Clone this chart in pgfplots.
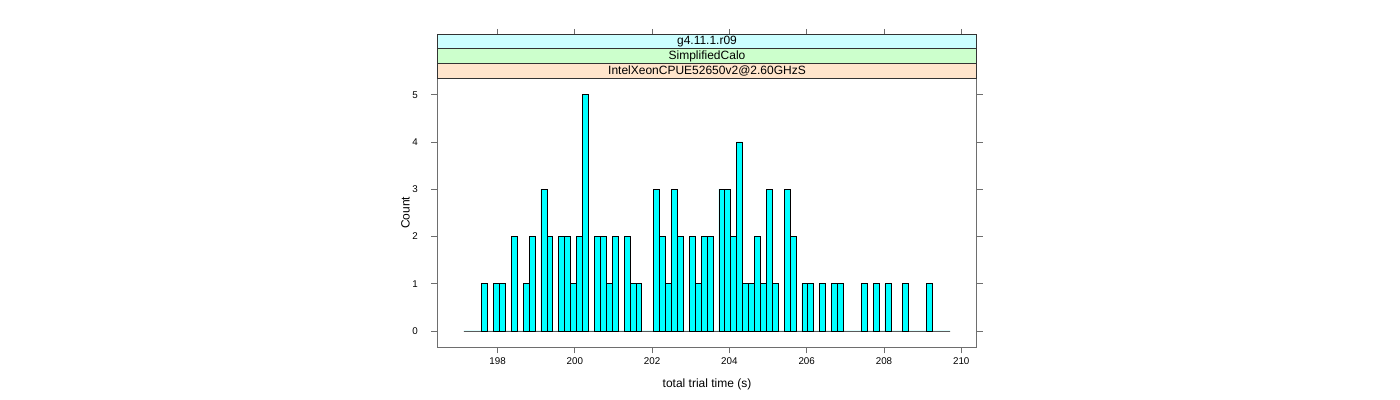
\documentclass[border=0pt]{standalone}
\usepackage{pgfplots}
\pgfplotsset{compat=1.18}
\usepackage{fontspec}
\setmainfont{Liberation Sans}
\definecolor{stripA}{RGB}{255,229,204}
\definecolor{stripB}{RGB}{204,255,204}
\definecolor{stripC}{RGB}{204,255,255}
\definecolor{barcyan}{RGB}{0,255,255}
\definecolor{framegray}{RGB}{110,110,110}
\pgfplotstableread{
x y
197.128 0
197.281 0
197.435 0
197.588 1
197.742 0
197.895 1
198.049 1
198.202 0
198.356 2
198.509 0
198.663 1
198.816 2
198.970 0
199.123 3
199.277 2
199.430 0
199.584 2
199.737 2
199.890 1
200.044 2
200.197 5
200.351 0
200.504 2
200.658 2
200.811 1
200.965 2
201.118 0
201.272 2
201.425 1
201.579 1
201.732 0
201.886 0
202.039 3
202.193 2
202.346 1
202.499 3
202.653 2
202.806 0
202.960 2
203.113 1
203.267 2
203.420 2
203.574 0
203.727 3
203.881 3
204.034 2
204.188 4
204.341 1
204.495 1
204.648 2
204.802 1
204.955 3
205.108 1
205.262 0
205.415 3
205.569 2
205.722 0
205.876 1
206.029 1
206.183 0
206.336 1
206.490 0
206.643 1
206.797 1
206.950 0
207.104 0
207.257 0
207.410 1
207.564 0
207.717 1
207.871 0
208.024 1
208.178 0
208.331 0
208.485 1
208.638 0
208.792 0
208.945 0
209.099 1
209.252 0
209.406 0
209.559 0
209.713 0
}\histdata
\begin{document}
\begin{tikzpicture}
\path[use as bounding box] (0,0) rectangle (1400bp,400bp);
\begin{axis}[
  name=ax,
  at={(437.3bp,52.7bp)}, anchor=south west,
  scale only axis, width=539.4bp, height=269bp,
  xmin=196.44, xmax=210.40, ymin=-0.345, ymax=5.347,
  xtick={198,200,...,210}, ytick={0,1,...,5},
  xtick pos=lower, ytick pos=both, yticklabel pos=left,
  tick align=outside, major tick length=6bp,
  minor tick num=0,
  tick style={framegray, line width=0.8bp},
  axis line style={framegray, line width=0.8bp},
  /pgf/number format/assume math mode=true,
  /pgf/number format/set thousands separator={},
  ticklabel style={font=\fontsize{9.8bp}{11bp}\selectfont},
  yticklabel style={xshift=-10bp},
  xticklabel style={yshift=-1bp},
  xlabel={total trial time (s)}, ylabel={Count},
  every axis x label/.style={at={(axis description cs:0.5,0)}, yshift=-36.7bp, anchor=center, font=\fontsize{12bp}{14bp}\selectfont},
  every axis y label/.style={at={(axis description cs:0,0.5)}, xshift=-31.8bp, anchor=center, rotate=90, font=\fontsize{12bp}{14bp}\selectfont},
]
\addplot[ybar interval, fill=barcyan, draw=black, line width=0.7bp] table[x=x, y=y] {\histdata};
\end{axis}
\begin{axis}[
  at={(437.3bp,52.7bp)}, anchor=south west,
  scale only axis, width=539.4bp, height=313.3bp,
  xmin=196.44, xmax=210.40, ymin=0, ymax=1,
  axis x line*=top, axis y line=none,
  xtick={198,200,...,210}, xticklabels={},
  tick align=outside, major tick length=5bp,
  tick style={framegray, line width=0.8bp},
  x axis line style={framegray, line width=0.8bp},
]
\end{axis}
\draw[black!80, line width=0.8bp, fill=stripA] (ax.north west) rectangle ([yshift=14.77bp]ax.north east);
\draw[black!80, line width=0.8bp, fill=stripB] ([yshift=14.77bp]ax.north west) rectangle ([yshift=29.53bp]ax.north east);
\draw[black!80, line width=0.8bp, fill=stripC] ([yshift=29.53bp]ax.north west) rectangle ([yshift=44.3bp]ax.north east);
\node[font=\fontsize{12bp}{13bp}\selectfont, inner sep=0pt] at ([yshift=7.38bp]ax.north) {IntelXeonCPUE52650v2@2.60GHzS};
\node[font=\fontsize{12bp}{13bp}\selectfont, inner sep=0pt] at ([yshift=22.15bp]ax.north) {SimplifiedCalo};
\node[font=\fontsize{12bp}{13bp}\selectfont, inner sep=0pt] at ([yshift=36.92bp]ax.north) {g4.11.1.r09};
\end{tikzpicture}
\end{document}
